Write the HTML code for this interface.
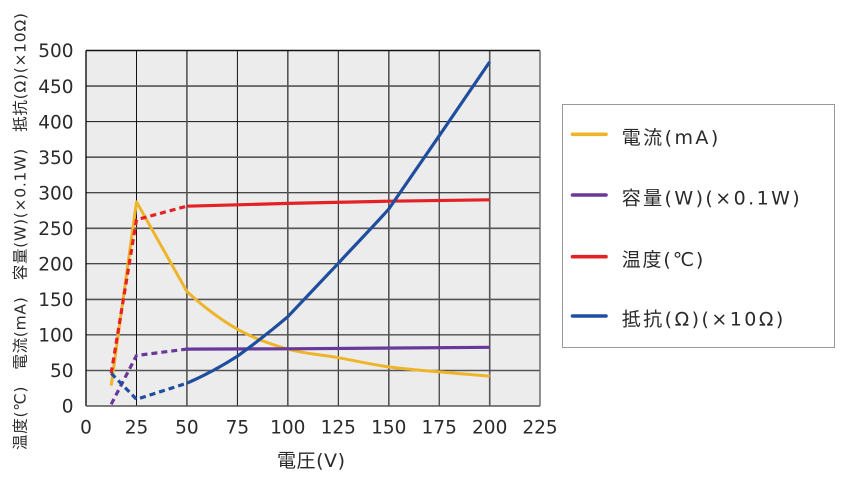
<!DOCTYPE html>
<html><head><meta charset="utf-8"><style>
html,body{margin:0;padding:0;background:#fff;}
svg{display:block;}
text{font-family:"DejaVu Sans","Liberation Sans","Noto Sans CJK JP",sans-serif;fill:#2a2a2a;}
</style></head><body>
<svg width="842" height="482" viewBox="0 0 842 482" xmlns="http://www.w3.org/2000/svg">
<rect x="86" y="50.5" width="454" height="355.5" fill="#ececec"/>
<!-- grid -->
<g stroke="#111" stroke-width="1">
<line x1="136.5" y1="50.5" x2="136.5" y2="406"/>
<line x1="237.4" y1="50.5" x2="237.4" y2="406"/>
<line x1="338.3" y1="50.5" x2="338.3" y2="406"/>
<line x1="439.2" y1="50.5" x2="439.2" y2="406"/>
<line x1="86" y1="121.6" x2="540" y2="121.6"/>
<line x1="86" y1="192.7" x2="540" y2="192.7"/>
<line x1="86" y1="263.8" x2="540" y2="263.8"/>
<line x1="86" y1="334.9" x2="540" y2="334.9"/>
</g>
<g stroke="#555" stroke-width="1.6">
<line x1="186.9" y1="50.5" x2="186.9" y2="406"/>
<line x1="287.8" y1="50.5" x2="287.8" y2="406"/>
<line x1="388.8" y1="50.5" x2="388.8" y2="406"/>
<line x1="489.7" y1="50.5" x2="489.7" y2="406"/>
<line x1="86" y1="86.1" x2="540" y2="86.1"/>
<line x1="86" y1="157.2" x2="540" y2="157.2"/>
<line x1="86" y1="228.3" x2="540" y2="228.3"/>
<line x1="86" y1="299.4" x2="540" y2="299.4"/>
<line x1="86" y1="370.5" x2="540" y2="370.5"/>
</g>
<line x1="86" y1="50.5" x2="540" y2="50.5" stroke="#111" stroke-width="1.4"/>
<line x1="86" y1="50.5" x2="86" y2="406" stroke="#111" stroke-width="1.4"/>
<line x1="540" y1="50.5" x2="540" y2="406" stroke="#666" stroke-width="1.4"/>
<line x1="86" y1="406" x2="540" y2="406" stroke="#555" stroke-width="1.4"/>

<!-- y tick labels -->
<g font-size="18.5" text-anchor="end">
<text x="73.5" y="57.2">500</text>
<text x="73.5" y="92.8">450</text>
<text x="73.5" y="128.3">400</text>
<text x="73.5" y="163.9">350</text>
<text x="73.5" y="199.4">300</text>
<text x="73.5" y="235">250</text>
<text x="73.5" y="270.5">200</text>
<text x="73.5" y="306.1">150</text>
<text x="73.5" y="341.6">100</text>
<text x="73.5" y="377.2">50</text>
<text x="73.5" y="412.7">0</text>
</g>
<!-- x tick labels -->
<g font-size="18.5" text-anchor="middle">
<text x="86" y="433.4">0</text>
<text x="136.5" y="433.4">25</text>
<text x="186.9" y="433.4">50</text>
<text x="237.4" y="433.4">75</text>
<text x="287.8" y="433.4">100</text>
<text x="338.3" y="433.4">125</text>
<text x="388.8" y="433.4">150</text>
<text x="439.2" y="433.4">175</text>
<text x="489.7" y="433.4">200</text>
<text x="540" y="433.4">225</text>
</g>
<text x="277" y="467" font-size="19" textLength="68" lengthAdjust="spacing">電圧(V)</text>
<text transform="translate(25.5,450) rotate(-90)" x="0" y="0" font-size="15.5" textLength="437" lengthAdjust="spacing">温度(℃)　電流(mA)　容量(W)(×0.1W)　抵抗(Ω)(×10Ω)</text>

<!-- series -->
<g fill="none" stroke-linejoin="round">
<!-- yellow current -->
<path stroke="#efb52a" stroke-width="3" d="M111.2,385.7 L136.5,201.9 L186.9,291.5 C203.7,307 220.6,319.6 237.4,329.2 C254.2,338.8 271,344.35 287.8,349.1 C304.6,353.85 321.5,354.7 338.3,357.7 C355.1,360.7 372,364.5 388.8,366.9 C405.6,369.3 422.4,370.4 439.2,371.9 C456,373.4 481.3,375.4 489.7,376.1"/>
<!-- red temperature -->
<polyline stroke="#e42226" stroke-width="3.2" stroke-dasharray="6 4" points="111.2,373.3 136.5,219.7 186.9,206.2"/>
<polyline stroke="#e42226" stroke-width="3.2" points="186.9,206.2 237.4,204.8 287.8,203.4 388.8,201.2 489.7,199.8"/>
<!-- purple power -->
<polyline stroke="#68399a" stroke-width="3.2" stroke-dasharray="6 4" points="111.2,404.3 136.5,355.5 186.9,349.1"/>
<polyline stroke="#68399a" stroke-width="3.2" points="186.9,349.1 287.8,348.8 489.7,347.3"/>
<!-- blue resistance -->
<polyline stroke="#1f4e9e" stroke-width="3.2" stroke-dasharray="6 4" points="111.2,373.3 136.5,399.3 186.9,383.2"/>
<path stroke="#1f4e9e" stroke-width="3.2" d="M186.9,383.2 C203.7,376 220.6,367 237.4,356.2 C254.2,344 271,331 287.8,316.7 C304.6,299 321.5,281 338.3,263.3 C355.1,245 372,228 388.8,209 L439.2,135.8 L489.7,61.9"/>
</g>

<!-- legend -->
<rect x="562.5" y="104.5" width="272" height="243" fill="#fff" stroke="#999" stroke-width="1"/>
<g stroke-width="3.6" stroke-linecap="round">
<line x1="572.5" y1="134.3" x2="606" y2="134.3" stroke="#efb52a"/>
<line x1="572.5" y1="195" x2="606" y2="195" stroke="#68399a"/>
<line x1="572.5" y1="256.7" x2="606" y2="256.7" stroke="#e42226"/>
<line x1="572.5" y1="316" x2="606" y2="316" stroke="#1f4e9e"/>
</g>
<g font-size="19">
<text x="621.7" y="144" textLength="96.6" lengthAdjust="spacing">電流(mA)</text>
<text x="621.7" y="204.5" textLength="178" lengthAdjust="spacing">容量(W)(×0.1W)</text>
<text x="621.7" y="266.2" textLength="81.6" lengthAdjust="spacing">温度(℃)</text>
<text x="621.7" y="325.5" textLength="161.6" lengthAdjust="spacing">抵抗(Ω)(×10Ω)</text>
</g>
</svg>
</body></html>
